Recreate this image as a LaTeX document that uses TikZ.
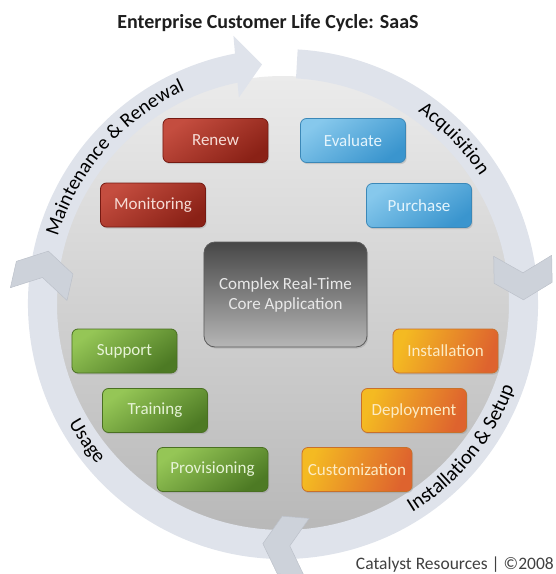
\documentclass[tikz,border=0pt]{standalone}
\usepackage{fontspec}
\setmainfont{Carlito}
\usetikzlibrary{decorations.text,shadows}
\definecolor{discT}{HTML}{EBEBEB}
\definecolor{discB}{HTML}{B8B8B8}
\definecolor{ringc}{HTML}{DFE3EB}
\definecolor{chevc}{HTML}{CDD2DA}
\definecolor{chevD}{HTML}{BCC1CA}
\definecolor{redT}{HTML}{C44D3F}
\definecolor{redB}{HTML}{8A2116}
\definecolor{redD}{HTML}{761A12}
\definecolor{redX}{HTML}{F6DCD6}
\definecolor{bluT}{HTML}{86C8EC}
\definecolor{bluB}{HTML}{3A95CE}
\definecolor{bluD}{HTML}{3B88B8}
\definecolor{bluX}{HTML}{E4F4FC}
\definecolor{grnT}{HTML}{95C656}
\definecolor{grnB}{HTML}{4D7A24}
\definecolor{grnD}{HTML}{4A7022}
\definecolor{grnX}{HTML}{E6F3D6}
\definecolor{orgT}{HTML}{F4BA22}
\definecolor{orgB}{HTML}{DE632E}
\definecolor{orgD}{HTML}{C8702A}
\definecolor{orgX}{HTML}{FCEBC4}
\definecolor{corT}{HTML}{474747}
\definecolor{corB}{HTML}{B6B6B6}
\definecolor{corD}{HTML}{5C5C5C}
\definecolor{corX}{HTML}{E8E8E8}
\definecolor{ringtext}{HTML}{1E1E1E}
\begin{document}
\begin{tikzpicture}[x=1pt,y=1pt,
  box/.style={draw, rounded corners=6pt, minimum width=105pt, minimum height=44pt,
    inner sep=0pt, line width=0.8pt, font=\fontsize{17}{20}\selectfont,
    drop shadow={opacity=0.28, shadow xshift=1.2pt, shadow yshift=-1.6pt}},
  redbox/.style={box, draw=redD, top color=redT, bottom color=redB, shading angle=35, text=redX},
  blubox/.style={box, draw=bluD, top color=bluT, bottom color=bluB, shading angle=35, text=bluX},
  grnbox/.style={box, draw=grnD, top color=grnT, bottom color=grnB, shading angle=35, text=grnX},
  orgbox/.style={box, draw=orgD, top color=orgT, bottom color=orgB, shading angle=70, text=orgX},
  corebox/.style={box, draw=corD, top color=corT, bottom color=corB, rounded corners=11pt,
    minimum width=163pt, minimum height=105pt, align=center, text=corX},
  chevron/.style={fill=chevc, draw=chevD, line width=0.5pt, line join=round}
]
\useasboundingbox (-283,-270) rectangle (273,304);
% disc
\shade[top color=discT, bottom color=discB] (0,0) circle[radius=228];
% ring with gap at the top
\fill[ringc] (100:255) arc[start angle=100, end angle=446.7, radius=255]
  -- (446.7:226) arc[start angle=446.7, end angle=100, radius=226] -- cycle;
% top arrowhead
\begin{scope}[shift={(95:240.5)}, rotate=5]
  \fill[ringc] (0,0) -- (-26,31) -- (-26,-31) -- cycle;
\end{scope}
% chevrons
\foreach \ang in {1,265.2,167.3}{
  \begin{scope}[shift={(\ang:240.5)}, rotate=\ang-90]
    \draw[chevron] (0,0) -- (-17,29) -- (-44,29) -- (-27,0) -- (-44,-29) -- (-17,-29) -- cycle;
  \end{scope}
}
% ring labels
\path[decorate, decoration={text along path, text align=center,
  text={|\fontsize{20}{24}\selectfont|Maintenance {\&} Renewal}}]
  (178:235) arc[start angle=178, end angle=100, radius=235];
\path[decorate, decoration={text along path, text align=center,
  text={|\fontsize{20}{24}\selectfont|Acquisition}}]
  (74:235) arc[start angle=74, end angle=14, radius=235];
\path[decorate, decoration={text along path, text align=center,
  text={|\fontsize{20.5}{24}\selectfont|Installation {\&} Setup}}]
  (-77:245.5) arc[start angle=-77, end angle=-1, radius=245.5];
\path[decorate, decoration={text along path, text align=center,
  text={|\fontsize{20}{24}\selectfont|Usage}}]
  (195:245.5) arc[start angle=195, end angle=235, radius=245.5];
% boxes
\node[redbox] (renew) at (-67.5,163.5) {Renew};
\node[blubox] (evaluate) at (70,163.5) {Evaluate};
\node[redbox] (monitoring) at (-130,99) {Monitoring};
\node[blubox] (purchase) at (136,98.5) {Purchase};
\node[corebox] (core) at (2.5,9.5) {Complex Real-Time\\Core Application};
\node[grnbox] (support) at (-158.5,-47) {Support};
\node[orgbox] (installation) at (162.5,-47) {Installation};
\node[grnbox] (training) at (-128,-106.5) {Training};
\node[orgbox] (deployment) at (131,-106.5) {Deployment};
\node[grnbox, minimum width=111pt] (provisioning) at (-70.5,-165.5) {Provisioning};
\node[orgbox, minimum width=110pt] (customization) at (74,-165.5) {Customization};
% title and credit
\node[font=\fontsize{20}{24}\selectfont\bfseries, text=ringtext, anchor=base] (title) at (-15,276) {Enterprise Customer Life Cycle: SaaS};
\node[font=\fontsize{17.5}{20}\selectfont, text=ringtext!85, anchor=base east, inner sep=0pt] (credit) at (271,-265) {Catalyst Resources | ©2008};
\end{tikzpicture}
\end{document}
